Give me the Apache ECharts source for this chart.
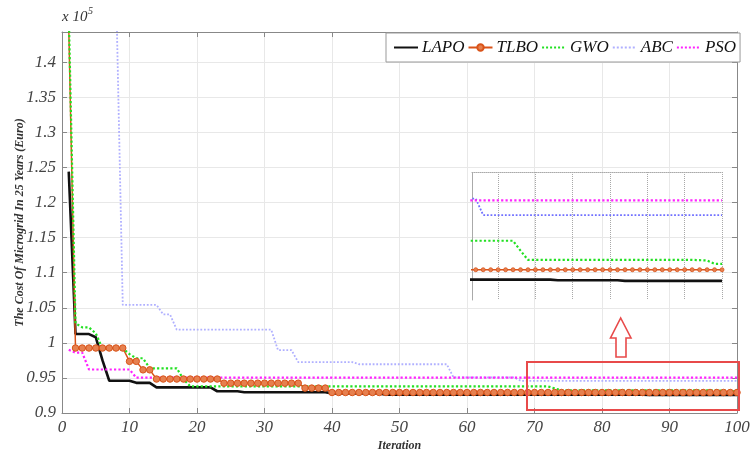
<!DOCTYPE html>
<html><head><meta charset="utf-8">
<script src="https://cdn.jsdelivr.net/npm/echarts@6/dist/echarts.min.js"></script>
<style>html,body{margin:0;padding:0;background:#fff}#c{width:750px;height:453px}</style>
</head><body><div id="c"></div><script>
// Iteration index 1..100
const iterations = Array.from({length: 100}, (_, i) => i + 1);
const xTicks = [0, 10, 20, 30, 40, 50, 60, 70, 80, 90, 100];
const yTicks = [0.9, 0.95, 1, 1.05, 1.1, 1.15, 1.2, 1.25, 1.3, 1.35, 1.4];
const seriesNames = ['LAPO', 'TLBO', 'GWO', 'ABC', 'PSO'];

const LAPO = [
 1.244, 1.0125, 1.0125, 1.0125, 1.008, 0.975, 0.946, 0.946, 0.946, 0.946,
 0.943, 0.943, 0.943, 0.9365, 0.9365, 0.9365, 0.9365, 0.9365, 0.9365, 0.9365,
 0.9365, 0.9365, 0.931, 0.931, 0.931, 0.931, 0.9295, 0.9295, 0.9295, 0.9295,
 0.9295, 0.9295, 0.9295, 0.9295, 0.9295, 0.9295, 0.9295, 0.9295, 0.9295, 0.928,
 0.928, 0.928, 0.928, 0.928, 0.928, 0.928, 0.928, 0.9262, 0.9262, 0.9262,
 0.9262, 0.9262, 0.9262, 0.9262, 0.9262, 0.9262, 0.9262, 0.9262, 0.9262, 0.9262,
 0.9262, 0.9262, 0.9262, 0.9262, 0.9262, 0.9262, 0.9262, 0.9262, 0.9262, 0.9262,
 0.9262, 0.9262, 0.9262, 0.9262, 0.9262, 0.9262, 0.9262, 0.926, 0.926, 0.926,
 0.926, 0.926, 0.926, 0.926, 0.926, 0.926, 0.9258, 0.9258, 0.9258, 0.9258,
 0.9258, 0.9258, 0.9258, 0.9258, 0.9258, 0.9258, 0.9258, 0.9258, 0.9258, 0.9258
];
const TLBO = [
 1.45, 0.9926, 0.9926, 0.9926, 0.9926, 0.9926, 0.9926, 0.9926, 0.9926, 0.9736,
 0.9736, 0.9615, 0.9615, 0.9484, 0.9484, 0.9484, 0.9484, 0.9484, 0.9484, 0.9484,
 0.9484, 0.9484, 0.9484, 0.9425, 0.9425, 0.9425, 0.9425, 0.9425, 0.9425, 0.9425,
 0.9425, 0.9425, 0.9425, 0.9425, 0.9425, 0.9355, 0.9355, 0.9355, 0.9355, 0.9292,
 0.9292, 0.9292, 0.9292, 0.9292, 0.9292, 0.9292, 0.9292, 0.9292, 0.9292, 0.9292,
 0.9292, 0.9292, 0.9292, 0.9292, 0.9292, 0.9292, 0.9292, 0.9292, 0.9292, 0.9292,
 0.9292, 0.9292, 0.9292, 0.9292, 0.9292, 0.9292, 0.9292, 0.9292, 0.9292, 0.9292,
 0.9292, 0.9292, 0.9292, 0.9292, 0.9292, 0.9292, 0.9292, 0.9292, 0.9292, 0.9292,
 0.9292, 0.9292, 0.9292, 0.9292, 0.9292, 0.9292, 0.9292, 0.9292, 0.9292, 0.9292,
 0.9292, 0.9292, 0.9292, 0.9292, 0.9292, 0.9292, 0.9292, 0.9292, 0.9292, 0.9292
];
const GWO = [
 1.47, 1.028, 1.022, 1.022, 1.0135, 0.992, 0.992, 0.992, 0.992, 0.984,
 0.978, 0.978, 0.9637, 0.9637, 0.9637, 0.9637, 0.9637, 0.948, 0.938, 0.938,
 0.938, 0.938, 0.938, 0.938, 0.938, 0.938, 0.938, 0.938, 0.938, 0.938,
 0.938, 0.938, 0.938, 0.938, 0.938, 0.938, 0.938, 0.938, 0.938, 0.938,
 0.938, 0.938, 0.938, 0.938, 0.938, 0.938, 0.938, 0.938, 0.938, 0.938,
 0.938, 0.938, 0.938, 0.938, 0.938, 0.938, 0.938, 0.938, 0.938, 0.938,
 0.938, 0.938, 0.938, 0.938, 0.938, 0.938, 0.938, 0.938, 0.938, 0.938,
 0.938, 0.938, 0.935, 0.9322, 0.9322, 0.9322, 0.9322, 0.9322, 0.9322, 0.9322,
 0.9322, 0.9322, 0.9322, 0.9322, 0.9322, 0.9322, 0.9322, 0.9322, 0.9322, 0.9322,
 0.9322, 0.9322, 0.9322, 0.9322, 0.9322, 0.9322, 0.9321, 0.932, 0.931, 0.931
];
const ABC = [
 1.62, 1.60, 1.59, 1.58, 1.56, 1.55, 1.53, 1.51, 1.054, 1.054,
 1.054, 1.054, 1.054, 1.054, 1.0405, 1.0405, 1.0187, 1.0187, 1.0187, 1.0187,
 1.0187, 1.0187, 1.0187, 1.0187, 1.0187, 1.0187, 1.0187, 1.0187, 1.0187, 1.0187,
 1.0187, 0.9895, 0.9895, 0.9895, 0.9725, 0.9725, 0.9725, 0.9725, 0.9725, 0.9725,
 0.9725, 0.9725, 0.9725, 0.9695, 0.9695, 0.9695, 0.9695, 0.9695, 0.9695, 0.9695,
 0.9695, 0.9695, 0.9695, 0.9695, 0.9695, 0.9695, 0.9695, 0.9508, 0.9508, 0.9508,
 0.9508, 0.9508, 0.9508, 0.9508, 0.9508, 0.9508, 0.9508, 0.9458, 0.9458, 0.9458,
 0.9458, 0.9458, 0.9458, 0.9458, 0.9458, 0.9458, 0.9458, 0.9458, 0.9458, 0.9458,
 0.9458, 0.9458, 0.9458, 0.9458, 0.9458, 0.9458, 0.9458, 0.9458, 0.9458, 0.9458,
 0.9458, 0.9458, 0.9458, 0.9458, 0.9458, 0.9458, 0.9458, 0.9458, 0.9458, 0.9458
];
const PSO = [
 0.990, 0.986, 0.986, 0.962, 0.962, 0.962, 0.962, 0.962, 0.962, 0.962,
 0.9503, 0.9503, 0.9503, 0.9503, 0.9503, 0.9503, 0.9503, 0.9503, 0.9503, 0.9503,
 0.9503, 0.9503, 0.9503, 0.9503, 0.9503, 0.9503, 0.9503, 0.9503, 0.9503, 0.9503,
 0.9503, 0.9503, 0.9503, 0.9503, 0.9503, 0.9503, 0.9503, 0.9503, 0.9503, 0.9503,
 0.9503, 0.9503, 0.9503, 0.9503, 0.9503, 0.9503, 0.9503, 0.9503, 0.9503, 0.9503,
 0.9503, 0.9503, 0.9503, 0.9503, 0.9503, 0.9503, 0.9503, 0.9503, 0.9503, 0.9503,
 0.9503, 0.9503, 0.9503, 0.9503, 0.9503, 0.9503, 0.9503, 0.9503, 0.9503, 0.9503,
 0.9503, 0.9503, 0.9503, 0.9503, 0.9503, 0.9503, 0.9503, 0.9503, 0.9503, 0.9503,
 0.9503, 0.9503, 0.9503, 0.9503, 0.9503, 0.9503, 0.9503, 0.9503, 0.9503, 0.9503,
 0.9503, 0.9503, 0.9503, 0.9503, 0.9503, 0.9503, 0.9503, 0.9503, 0.9503, 0.9503
];

const values = {LAPO, TLBO, GWO, ABC, PSO};
const pairs = arr => iterations.map((it, i) => [it, arr[i]]);

const FONT = 'Liberation Serif';
const styles = {
  LAPO: {color: '#111111', width: 2.6, type: 'solid'},
  TLBO: {color: '#D95319', width: 1.5, type: 'solid'},
  GWO:  {color: '#22e022', width: 2.2, type: 'dotted'},
  ABC:  {color: '#b0b0ff', width: 1.8, type: 'dotted'},
  PSO:  {color: '#ff22ff', width: 2.2, type: 'dotted'}
};
const insetColors = {ABC: '#7070ff'};

const series = [];
seriesNames.forEach(n => {
  const s = styles[n];
  series.push({
    name: n, type: 'line', xAxisIndex: 0, yAxisIndex: 0, data: pairs(values[n]),
    showSymbol: n === 'TLBO', symbol: n === 'TLBO' ? 'circle' : 'none', symbolSize: 6.5,
    itemStyle: n === 'TLBO' ? {color: '#E6804F', borderColor: '#D95319', borderWidth: 1} : {color: s.color},
    lineStyle: {color: s.color, width: s.width, type: s.type},
    clip: true, animation: false, silent: true
  });
});
seriesNames.forEach(n => {
  const s = styles[n];
  const col = insetColors[n] || s.color;
  series.push({
    name: n, type: 'line', xAxisIndex: 2, yAxisIndex: 2, data: pairs(values[n]),
    showSymbol: n === 'TLBO', symbol: n === 'TLBO' ? 'circle' : 'none', symbolSize: 4,
    itemStyle: n === 'TLBO' ? {color: '#E6804F', borderColor: '#D95319', borderWidth: 0.8} : {color: col},
    lineStyle: {color: col, width: s.width, type: s.type},
    clip: true, animation: false, silent: true, legendHoverLink: false
  });
});

const labelStyle = {fontFamily: FONT, fontStyle: 'italic', fontSize: 17, color: '#444'};
const nameStyle = {fontFamily: FONT, fontStyle: 'italic', fontWeight: 'bold', fontSize: 12, color: '#333'};

const legendData = seriesNames.map(n => n === 'TLBO'
  ? {name: n}
  : {name: n, itemStyle: {opacity: 0, borderWidth: 0}});

const option = {
  backgroundColor: '#fff',
  animation: false,
  grid: [
    {left: 62, top: 32, right: 13, bottom: 40, outerBoundsMode: 'none', containLabel: false},
    {left: 472, top: 172, width: 250, height: 128, outerBoundsMode: 'none', containLabel: false}
  ],
  legend: {
    data: legendData, left: 386, top: 33, orient: 'horizontal',
    backgroundColor: '#fff', borderColor: '#999', borderWidth: 1,
    padding: [6, 4, 6, 7], itemGap: 3, itemWidth: 24, itemHeight: 8,
    textStyle: {fontFamily: FONT, fontStyle: 'italic', fontSize: 17, color: '#111', padding: [0, 0, 0, -1]}
  },
  xAxis: [
    {gridIndex: 0, type: 'value', min: 0, max: 100, interval: 10, position: 'bottom',
     axisLine: {onZero: false, lineStyle: {color: '#888'}},
     axisTick: {inside: true, length: 5, lineStyle: {color: '#888'}},
     axisLabel: Object.assign({margin: 6, formatter: v => xTicks.includes(v) ? String(v) : ''}, labelStyle),
     splitLine: {show: true, lineStyle: {color: '#e8e8e8', width: 1}},
     name: 'Iteration', nameLocation: 'middle', nameGap: 27, nameMoveOverlap: false, nameTextStyle: nameStyle},
    {gridIndex: 0, type: 'value', min: 0, max: 100, interval: 10, position: 'top',
     axisLine: {show: true, onZero: false, lineStyle: {color: '#888'}},
     axisTick: {show: true, inside: true, length: 5, lineStyle: {color: '#888'}},
     axisLabel: {show: false}, splitLine: {show: false}},
    {gridIndex: 1, type: 'value', min: 66.5, max: 100, splitNumber: 5, position: 'top',
     axisLine: {show: true, onZero: false, lineStyle: {color: '#aaa', type: 'dotted'}},
     axisTick: {show: false}, axisLabel: {show: false},
     splitLine: {show: true, lineStyle: {color: '#a8a8a8', type: 'dotted', width: 1}}}
  ],
  yAxis: [
    {gridIndex: 0, type: 'value', min: 0.9, max: 1.443, interval: 0.05,
     axisLine: {show: true, onZero: false, lineStyle: {color: '#888'}},
     axisTick: {show: true, inside: true, length: 5, lineStyle: {color: '#888'}},
     axisLabel: Object.assign({margin: 6, showMaxLabel: false,
       formatter: v => { const r = Math.round(v * 100) / 100; return yTicks.includes(r) ? String(r) : ''; }}, labelStyle),
     splitLine: {show: true, lineStyle: {color: '#e8e8e8', width: 1}},
     name: 'The Cost Of Microgrid In 25 Years (Euro)', nameLocation: 'middle', nameGap: 36,
     nameMoveOverlap: false, nameRotate: 90, nameTextStyle: nameStyle},
    {gridIndex: 0, type: 'value', min: 0.9, max: 1.443, interval: 0.05, position: 'right',
     axisLine: {show: true, onZero: false, lineStyle: {color: '#888'}},
     axisTick: {show: true, inside: true, length: 5, lineStyle: {color: '#888'}},
     axisLabel: {show: false}, splitLine: {show: false}},
    {gridIndex: 1, type: 'value', min: 0.92, max: 0.9589,
     axisLine: {show: true, onZero: false, lineStyle: {color: '#aaa', type: 'dotted'}},
     axisTick: {show: false}, axisLabel: {show: false}, splitLine: {show: false}}
  ],
  graphic: [
    {type: 'text', left: 62, top: 10, z: 100, style: {text: 'x 10', fontFamily: FONT, fontStyle: 'italic', fontSize: 15, fill: '#333'}},
    {type: 'text', left: 88, top: 6, z: 100, style: {text: '5', fontFamily: FONT, fontStyle: 'italic', fontSize: 10, fill: '#333'}},
    {type: 'rect', z: 100, shape: {x: 527, y: 362, width: 212, height: 48},
     style: {fill: 'none', stroke: '#e84a4a', lineWidth: 2}},
    {type: 'polygon', z: 100, shape: {points: [[620.7, 318], [631, 338], [626, 338], [626, 357], [616, 357], [616, 338], [610.5, 338]]},
     style: {fill: '#fff', stroke: '#e84a4a', lineWidth: 1.6}}
  ],
  series: series
};

const chart = echarts.init(document.getElementById('c'), null, {renderer: 'canvas'});
chart.setOption(option);
</script></body></html>
